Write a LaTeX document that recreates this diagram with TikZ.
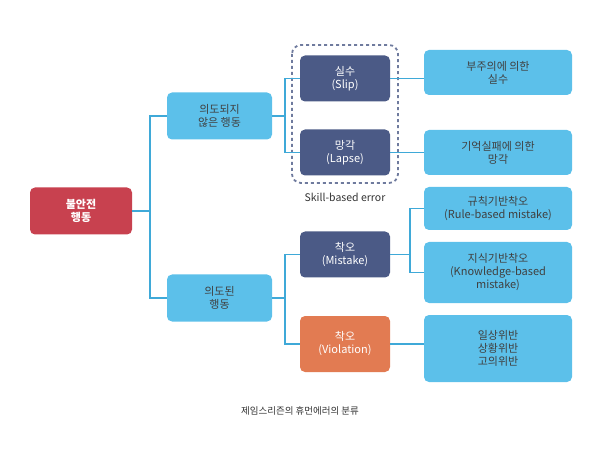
\documentclass[tikz,border=0pt]{standalone}
\usepackage{fontspec}
\setmainfont{Noto Sans CJK KR}
\definecolor{lb}{HTML}{5CC0EA}
\definecolor{nv}{HTML}{4B5A86}
\definecolor{rd}{HTML}{C8414F}
\definecolor{og}{HTML}{E27B52}
\definecolor{ln}{HTML}{3FA9D8}
\begin{document}
\begin{tikzpicture}[x=1pt,y=-1pt,
  bx/.style={rounded corners=5pt,draw=none,align=center,font=\fontsize{11}{13}\selectfont,inner sep=0pt},
  lbx/.style={bx,fill=lb,text=black!75},
  nbx/.style={bx,fill=nv,text=white},
  con/.style={draw=ln,line width=1.2pt}]
\useasboundingbox (0,0) rectangle (600,449);
\node[bx,fill=rd,text=white,minimum width=102,minimum height=47,font=\bfseries\fontsize{11}{13}\selectfont] (root) at (81,211) {불안전\\행동};
\node[lbx,minimum width=105,minimum height=47] (un) at (219.5,116) {의도되지\\않은 행동};
\node[lbx,minimum width=105,minimum height=47] (in) at (219.5,298) {의도된\\행동};
\node[nbx,minimum width=90,minimum height=46] (slip) at (345,78.5) {실수\\(Slip)};
\node[nbx,minimum width=90,minimum height=46] (lapse) at (345,152.5) {망각\\(Lapse)};
\node[nbx,minimum width=90,minimum height=46] (mis) at (345,254.5) {착오\\(Mistake)};
\node[bx,fill=og,text=white,minimum width=90,minimum height=56] (vio) at (345,344) {착오\\(Violation)};
\draw[dashed,line width=1.8pt,draw=nv!80,dash pattern=on 3pt off 3pt,rounded corners=9pt] (292,45) rectangle (398,183);
\node[font=\fontsize{10.5}{12}\selectfont,text=black!80] (sk) at (345,197) {Skill-based error};
\node[lbx,minimum width=148,minimum height=45] (r1) at (498,72.5) {부주의에 의한\\실수};
\node[lbx,minimum width=148,minimum height=45] (r2) at (498,152.5) {기억실패에 의한\\망각};
\node[lbx,minimum width=148,minimum height=43] (r3) at (498,208.5) {규칙기반착오\\(Rule-based mistake)};
\node[lbx,minimum width=148,minimum height=61] (r4) at (498,272.5) {지식기반착오\\(Knowledge-based\\mistake)};
\node[lbx,minimum width=148,minimum height=67] (r5) at (498,348.5) {일상위반\\상황위반\\고의위반};
\node[font=\fontsize{9.5}{11}\selectfont,text=black!80] (cap) at (300,411) {제임스리즌의 휴먼에러의 분류};
\draw[con] (root.east) -- (150,211) coordinate (t);
\draw[con] (un.west) -| (t) |- (in.west);
\draw[con] (un.east) -- (285,116) coordinate (a);
\draw[con] (slip.west) -| (a) |- (lapse.west);
\draw[con] (in.east) -- (285,298) coordinate (b);
\draw[con] (mis.west) -| (b) |- (vio.west);
\draw[con] (slip.east) -- (r1.west|-slip.east);
\draw[con] (lapse.east) -- (r2.west);
\draw[con] (mis.east) -- (410,254.5) coordinate (c);
\draw[con] (r3.west) -| (c) |- (r4.west);
\draw[con] (vio.east) -- (r5.west|-vio.east);
\end{tikzpicture}
\end{document}
